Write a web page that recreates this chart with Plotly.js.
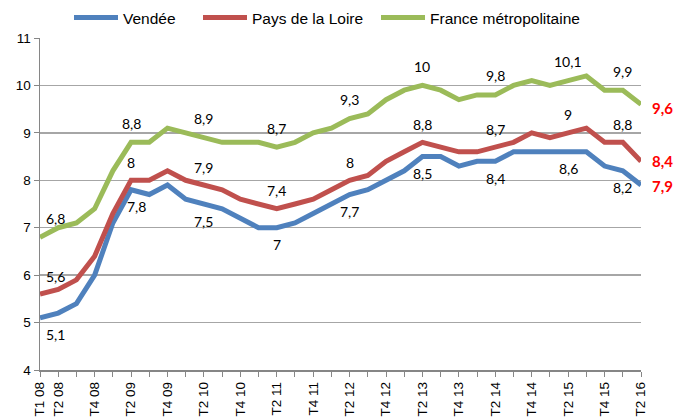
<!DOCTYPE html>
<html>
<head>
<meta charset="utf-8">
<script src="https://cdn.plot.ly/plotly-3.0.1.min.js"></script>
<style>html,body{margin:0;padding:0;background:#fff;}#chart{width:683px;height:419px;}</style>
</head>
<body>
<div id="chart"></div>
<script>
const quarters = ["T1 08","T2 08","T3 08","T4 08","T1 09","T2 09","T3 09","T4 09",
  "T1 10","T2 10","T3 10","T4 10","T1 11","T2 11","T3 11","T4 11",
  "T1 12","T2 12","T3 12","T4 12","T1 13","T2 13","T3 13","T4 13",
  "T1 14","T2 14","T3 14","T4 14","T1 15","T2 15","T3 15","T4 15",
  "T1 16","T2 16"];
const tickShown = ["T1 08","T2 08","T4 08","T2 09","T4 09","T2 10","T4 10","T2 11","T4 11",
  "T2 12","T4 12","T2 13","T4 13","T2 14","T4 14","T2 15","T4 15","T2 16"];
const vendee = [5.1,5.2,5.4,6.0,7.1,7.8,7.7,7.9,7.6,7.5,7.4,7.2,7.0,7.0,7.1,7.3,
  7.5,7.7,7.8,8.0,8.2,8.5,8.5,8.3,8.4,8.4,8.6,8.6,8.6,8.6,8.6,8.3,8.2,7.9];
const paysLoire = [5.6,5.7,5.9,6.4,7.3,8.0,8.0,8.2,8.0,7.9,7.8,7.6,7.5,7.4,7.5,7.6,
  7.8,8.0,8.1,8.4,8.6,8.8,8.7,8.6,8.6,8.7,8.8,9.0,8.9,9.0,9.1,8.8,8.8,8.4];
const france = [6.8,7.0,7.1,7.4,8.2,8.8,8.8,9.1,9.0,8.9,8.8,8.8,8.8,8.7,8.8,9.0,
  9.1,9.3,9.4,9.7,9.9,10.0,9.9,9.7,9.8,9.8,10.0,10.1,10.0,10.1,10.2,9.9,9.9,9.6];
const seriesNames = ["Vendée","Pays de la Loire","France métropolitaine"];
const labelIdx = [0,5,9,13,17,21,25,29,32];
const yTicks = [4,5,6,7,8,9,10,11];

const colors = ["#4F81BD","#C0504D","#9BBB59"];
const legendIds = ["legend","legend2","legend3"];
const allSeries = [vendee, paysLoire, france];
const traces = allSeries.map((s,k)=>({
  type:"scatter", mode:"lines", name:seriesNames[k], x:quarters, y:s,
  line:{color:colors[k], width:5}, hoverinfo:"skip", legend:legendIds[k]
}));
const fmt = v => String(v).replace(".", ",");
const ann = [];
const shifts = [-17, 18, 19];
allSeries.forEach((s,k)=>{
  labelIdx.forEach(i=>{
    ann.push({x:quarters[i], y:s[i], xref:"x", yref:"y", text:fmt(s[i]), showarrow:false,
      yshift:shifts[k], xshift:(i===0?15:(i===5&&k===0?5:0)),
      font:{family:"Lato, sans-serif", size:14, color:"#000"}});
  });
  const last = s.length-1;
  ann.push({x:quarters[last], y:s[last], xref:"x", yref:"y", text:"<b>"+fmt(s[last])+"</b>",
    showarrow:false, xanchor:"left", xshift:9, yshift:(k===0?-1:(k===2?-4:0)),
    font:{family:"Lato, sans-serif", size:15, color:"#FF0000"}});
});

const plotL = 40, plotW = 601;
const legStart = [77, 206, 384];
const legBase = {orientation:"h", xanchor:"left", yref:"container", y:0.957, yanchor:"middle",
  font:{size:15.5, family:"Liberation Sans, Arial, sans-serif"}, itemwidth:44, bgcolor:"rgba(0,0,0,0)"};

const layout = {
  width:683, height:419,
  margin:{l:40, r:42, t:38, b:49, autoexpand:false},
  paper_bgcolor:"#fff", plot_bgcolor:"#fff",
  font:{family:"Liberation Sans, Arial, sans-serif", color:"#000"},
  showlegend:true,
  xaxis:{type:"category", range:[0, quarters.length-1], tickmode:"array", tickvals:quarters,
    ticktext:quarters.map(q=>tickShown.includes(q)?q:""), tickangle:-90,
    ticks:"outside", ticklen:5, tickcolor:"#868686", showline:true, linecolor:"#868686", linewidth:1.5,
    showgrid:false, zeroline:false, automargin:false, tickfont:{size:13.5}},
  yaxis:{range:[4,11], tickmode:"array", tickvals:yTicks, ticks:"outside", ticklen:5, tickcolor:"#868686",
    showline:true, linecolor:"#868686", linewidth:1.5, showgrid:true, gridcolor:"#A6A6A6", gridwidth:1.3,
    zeroline:false, automargin:false, tickfont:{size:13.5}},
  annotations:ann
};
legendIds.forEach((id,k)=>{
  layout[id] = Object.assign({}, legBase, {x:(legStart[k]-8-plotL)/plotW});
});
Plotly.newPlot("chart", traces, layout, {staticPlot:true, displayModeBar:false});
</script>
</body>
</html>
